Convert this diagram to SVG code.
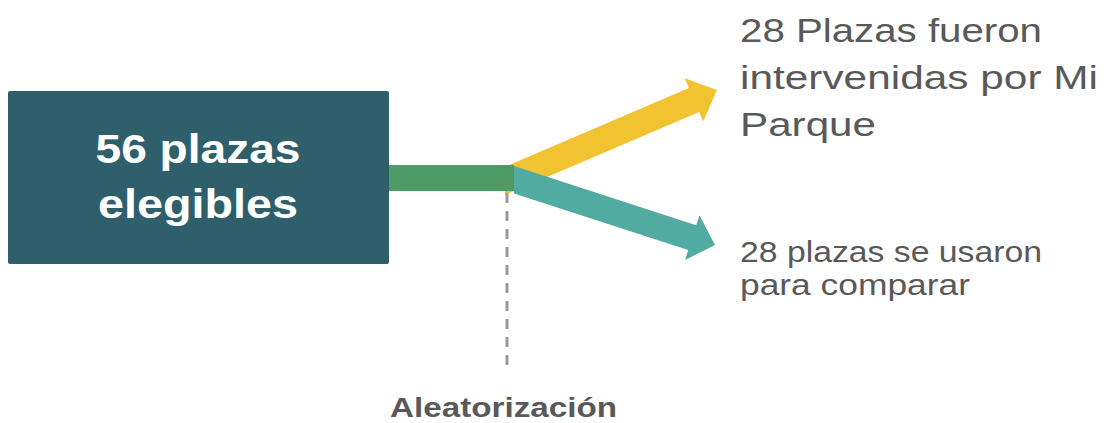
<svg xmlns="http://www.w3.org/2000/svg" width="1107" height="423" viewBox="0 0 1107 423">
  <style>
    .lbl { font-family: "Liberation Sans", Arial, sans-serif; fill: #595959; }
    .box-t { font-family: "Liberation Sans", Arial, sans-serif; font-weight: bold; fill: #ffffff; font-size: 40px; text-anchor: middle; }
  </style>
  <rect width="1107" height="423" fill="#ffffff"/>
  <g id="connectors">
    <polygon id="arrow-yellow" fill="#f2c330" points="505,166.7 688.9,87.9 684.7,78.3 717,90 703.3,121.5 699.1,111.9 505,195"/>
    <polygon id="arrow-teal" fill="#51aba0" points="514,166 696.2,225.2 699.5,215.3 715,245 685,260 688.2,250 514,193.4"/>
    <rect id="stem" x="388" y="165" width="126" height="26" fill="#4e9b66"/>
    <line id="dashed" x1="507" y1="193" x2="507" y2="372" stroke="#999999" stroke-width="3" stroke-dasharray="10 8"/>
  </g>
  <g id="node-elegibles">
    <rect x="8" y="91" width="381" height="173" rx="2" fill="#2e5f6b"/>
    <text class="box-t" x="198" y="163" textLength="205" lengthAdjust="spacingAndGlyphs">56 plazas</text>
    <text class="box-t" x="198" y="218" textLength="200" lengthAdjust="spacingAndGlyphs">elegibles</text>
  </g>
  <g id="node-intervenidas">
    <text class="lbl" font-size="34" x="740" y="42" textLength="302" lengthAdjust="spacingAndGlyphs">28 Plazas fueron</text>
    <text class="lbl" font-size="34" x="740" y="89" textLength="358" lengthAdjust="spacingAndGlyphs">intervenidas por Mi</text>
    <text class="lbl" font-size="34" x="740" y="136" textLength="136" lengthAdjust="spacingAndGlyphs">Parque</text>
  </g>
  <g id="node-comparar">
    <text class="lbl" font-size="29" x="740" y="262" textLength="302" lengthAdjust="spacingAndGlyphs">28 plazas se usaron</text>
    <text class="lbl" font-size="29" x="740" y="295" textLength="230" lengthAdjust="spacingAndGlyphs">para comparar</text>
  </g>
  <g id="node-aleatorizacion">
    <text class="lbl" font-size="27" font-weight="bold" x="390" y="417" textLength="227" lengthAdjust="spacingAndGlyphs">Aleatorización</text>
  </g>
</svg>
